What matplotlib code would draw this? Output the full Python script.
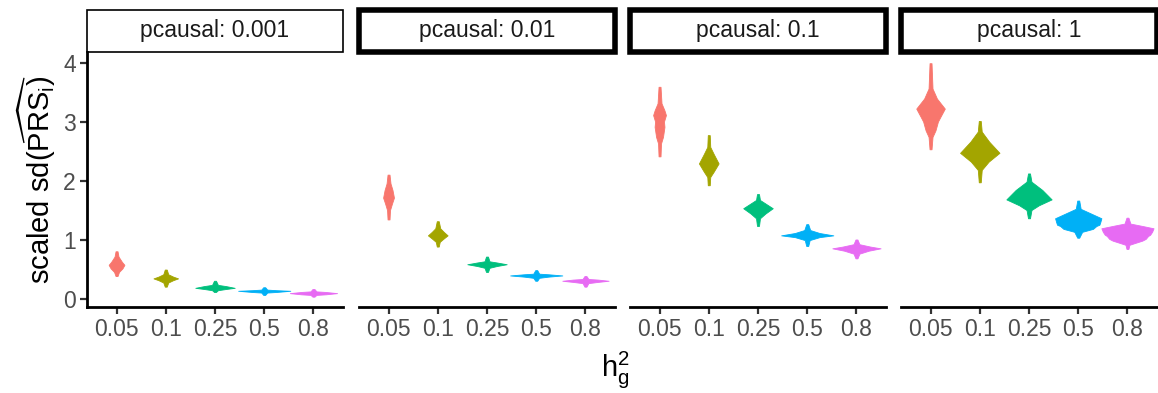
import matplotlib
matplotlib.use("Agg")
import matplotlib.pyplot as plt
from matplotlib.patches import Rectangle

plt.rcParams['font.family'] = ['Liberation Sans', 'DejaVu Sans']
plt.rcParams['mathtext.fontset'] = 'custom'
plt.rcParams['mathtext.rm'] = 'Liberation Sans'
plt.rcParams['mathtext.it'] = 'Liberation Sans:italic'

# facets and x categories
pcausal = ['0.001', '0.01', '0.1', '1']
h2_labels = ['0.05', '0.1', '0.25', '0.5', '0.8']
colors = ['#F8766D', '#A3A500', '#00BF7D', '#00B0F6', '#E76BF3']

# violin outlines: (value, half width) knots, one list per h2
violins_0001 = [
    [(0.81, .02), (0.72, .04), (0.63, .11), (0.58, .16), (0.52, .12), (0.46, .05), (0.39, .02)],
    [(0.50, .02), (0.42, .05), (0.38, .15), (0.35, .25), (0.32, .15), (0.28, .05), (0.21, .02)],
    [(0.31, .02), (0.24, .06), (0.22, .22), (0.19, .40), (0.17, .22), (0.15, .06), (0.12, .02)],
    [(0.20, .02), (0.16, .06), (0.15, .25), (0.14, .53), (0.12, .25), (0.11, .06), (0.07, .02)],
    [(0.17, .02), (0.13, .06), (0.12, .25), (0.10, .48), (0.08, .25), (0.07, .06), (0.04, .02)],
]
violins_001 = [
    [(2.11, .02), (1.96, .04), (1.85, .08), (1.72, .11), (1.62, .07), (1.51, .03), (1.35, .02)],
    [(1.32, .02), (1.20, .05), (1.14, .12), (1.08, .20), (1.02, .11), (0.97, .04), (0.89, .02)],
    [(0.72, .02), (0.64, .05), (0.62, .20), (0.59, .40), (0.56, .20), (0.53, .05), (0.46, .02)],
    [(0.49, .02), (0.43, .06), (0.42, .25), (0.40, .53), (0.38, .25), (0.36, .06), (0.31, .02)],
    [(0.39, .02), (0.34, .06), (0.33, .25), (0.31, .47), (0.29, .25), (0.27, .06), (0.21, .02)],
]
violins_01 = [
    [(3.60, .02), (3.32, .04), (3.20, .10), (3.12, .13), (3.01, .09), (2.92, .10),
     (2.75, .07), (2.64, .03), (2.42, .02)],
    [(2.78, .02), (2.58, .03), (2.46, .10), (2.30, .20), (2.16, .10), (2.07, .03), (1.93, .02)],
    [(1.78, .02), (1.68, .04), (1.61, .17), (1.54, .30), (1.45, .15), (1.37, .04), (1.24, .02)],
    [(1.27, .02), (1.17, .06), (1.12, .25), (1.08, .53), (1.05, .25), (1.00, .05), (0.90, .02)],
    [(1.01, .02), (0.93, .06), (0.89, .28), (0.86, .49), (0.82, .25), (0.77, .06), (0.69, .02)],
]
violins_1 = [
    [(4.00, .02), (3.57, .04), (3.40, .13), (3.23, .29), (3.09, .20), (3.01, .15),
     (2.86, .10), (2.75, .04), (2.54, .02)],
    [(3.02, .02), (2.84, .04), (2.67, .19), (2.48, .40), (2.33, .18), (2.19, .04), (1.98, .02)],
    [(2.13, .02), (1.99, .05), (1.85, .27), (1.69, .46), (1.59, .20), (1.51, .05), (1.37, .02)],
    [(1.67, .02), (1.53, .05), (1.45, .26), (1.37, .47), (1.31, .45), (1.26, .43), (1.24, .37),
     (1.19, .30), (1.14, .08), (1.04, .02)],
    [(1.38, .02), (1.28, .06), (1.24, .30), (1.20, .53), (1.14, .50), (1.09, .46), (1.07, .42),
     (1.02, .37), (0.99, .30), (0.95, .15), (0.92, .04), (0.85, .02)],
]
all_violins = [violins_0001, violins_001, violins_01, violins_1]
y_ticks = [0, 1, 2, 3, 4]

W, H = 1158, 393
fig = plt.figure(figsize=(W / 100, H / 100), dpi=100)

lefts = [87, 359, 630, 901]
pw = 256
top, bottom = 52, 307
strip_h = 42

for k, (label, violins) in enumerate(zip(pcausal, all_violins)):
    ax = fig.add_axes([lefts[k] / W, 1 - bottom / H, pw / W, (bottom - top) / H])
    for i, knots in enumerate(violins):
        ys = [v for v, _ in knots]
        hw = [w for _, w in knots]
        ax.fill_betweenx(ys, [i - w for w in hw], [i + w for w in hw],
                         color=colors[i], lw=0.6, edgecolor=colors[i])
    ax.set_xlim(-0.6, len(h2_labels) - 0.4)
    ax.set_ylim(-0.135, 4.19)
    ax.set_xticks(range(len(h2_labels)))
    ax.set_xticklabels(h2_labels)
    ax.tick_params(axis='both', length=5, width=1.6, color='#333333',
                   labelcolor='#4D4D4D', labelsize=16.5, pad=3)
    for s in ['top', 'right']:
        ax.spines[s].set_visible(False)
    ax.spines['bottom'].set_linewidth(2.0)
    if k == 0:
        ax.set_yticks(y_ticks)
        ax.spines['left'].set_linewidth(2.0)
        ax.set_ylabel(r'scaled sd($\widehat{\mathrm{PRS}_\mathrm{i}}$)', fontsize=21, labelpad=4)
    else:
        ax.spines['left'].set_visible(False)
        ax.set_yticks([])

    # facet strip
    lw = 1.2 if k == 0 else 4.0
    sax = fig.add_axes([lefts[k] / W, 1 - (top) / H, pw / W, strip_h / H])
    sax.set_xlim(0, 1)
    sax.set_ylim(0, 1)
    sax.axis('off')
    sax.add_patch(Rectangle((0, 0), 1, 1, transform=sax.transAxes, fill=False,
                            lw=lw, edgecolor='black', clip_on=False))
    sax.text(0.5, 0.5, 'pcausal: ' + label, ha='center', va='center',
             fontsize=16.5, color='#1A1A1A')

fig.text(615 / W, 1 - 370 / H, r'$\mathrm{h}_\mathrm{g}^\mathrm{2}$', ha='center', va='center',
         fontsize=21)

fig.savefig('out.png', dpi=100)
